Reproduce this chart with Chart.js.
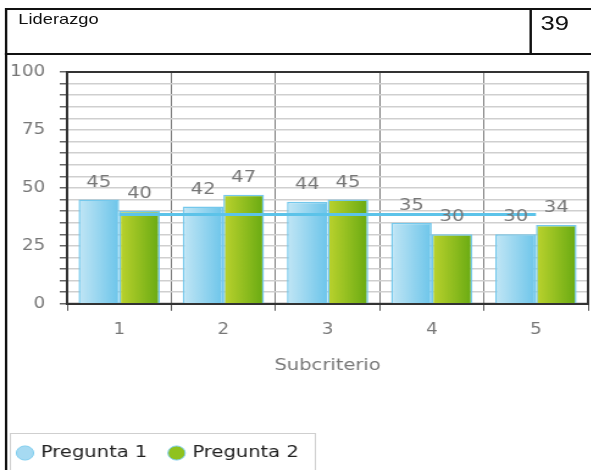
<!DOCTYPE html>
<html>
<head>
<meta charset="utf-8">
<script src="https://cdn.jsdelivr.net/npm/chart.js@4.4.0/dist/chart.umd.min.js"></script>
<style>
    html, body { margin: 0; padding: 0; background: #fff; overflow: hidden; width: 591px; height: 470px; }
    /* the reference is stretched sideways, so the whole page is too */
    #page { position: absolute; left: 0; top: 0; width: 500px; height: 470px; transform: scaleX(1.22); transform-origin: 0 0; }
    #header { position: absolute; left: 4px; top: 8px; width: 520px; height: 43px; border: 2px solid #111; font-family: "Liberation Sans", Arial, sans-serif; color: #111; }
    #header .divider { position: absolute; left: 428px; top: 0; width: 2px; height: 43px; background: #111; }
    #header .title { position: absolute; left: 9px; top: 1px; font-size: 15px; line-height: 15px; }
    #header .score { position: absolute; left: 437px; top: 2px; font-size: 21px; line-height: 21px; }
    #frame { position: absolute; left: 4px; top: 53px; width: 0; height: 430px; border-left: 2px solid #111; }
    #chartBox { position: absolute; left: 7px; top: 51px; width: 478px; height: 447px; }
</style>
</head>
<body>
<div id="page">
    <div id="header">
        <div class="title">Liderazgo</div>
        <div class="divider"></div>
        <div class="score">39</div>
    </div>
    <div id="frame"></div>
    <div id="chartBox"><canvas id="subChart" width="478" height="447"></canvas></div>
</div>
<script>
const categories = ['1', '2', '3', '4', '5'];
const pregunta1 = [45, 42, 44, 35, 30];
const pregunta2 = [40, 47, 45, 30, 34];
const promedio = [38.5, 38.5, 38.5, 38.5, 38.5];

const CAT_PCT = 0.78;

Chart.defaults.font.family = '"DejaVu Sans", Verdana, sans-serif';

// horizontal gradient across each bar
function barGradient(light, dark) {
    return function (c) {
        const xs = c.chart.scales.x;
        if (c.type !== 'data' || !xs) return dark;
        const slot = xs.width / categories.length * CAT_PCT / 2;
        const left = xs.getPixelForValue(c.dataIndex) - slot + c.datasetIndex * slot;
        const g = c.chart.ctx.createLinearGradient(left, 0, left + slot, 0);
        g.addColorStop(0, light);
        g.addColorStop(1, dark);
        return g;
    };
}

const valueLabels = {
    id: 'valueLabels',
    afterDatasetsDraw(chart) {
        const ctx = chart.ctx;
        ctx.save();
        ctx.font = '16px "DejaVu Sans"';
        ctx.fillStyle = '#777';
        ctx.textAlign = 'center';
        ctx.textBaseline = 'middle';
        chart.data.datasets.forEach((ds, i) => {
            if (ds.type === 'line') return;
            chart.getDatasetMeta(i).data.forEach((bar, j) => {
                ctx.fillText(ds.data[j], bar.x, bar.y - 17);
            });
        });
        ctx.restore();
    }
};

const plotFrame = {
    id: 'plotFrame',
    afterLayout(chart) {
        // legend items sit closer to the left edge than Chart.js puts them
        chart.legend.left -= 10.5;
    },
    beforeDatasetsDraw(chart) {
        const a = chart.chartArea;
        const ctx = chart.ctx;
        ctx.save();
        ctx.strokeStyle = '#333';
        ctx.lineWidth = 2;
        ctx.strokeRect(a.left, a.top, a.right - a.left, a.bottom - a.top);
        ctx.restore();
    },
    afterDraw(chart) {
        const boxes = chart.legend.legendHitBoxes;
        if (!boxes.length) return;
        const ctx = chart.ctx;
        ctx.save();
        ctx.strokeStyle = '#cfcfcf';
        ctx.lineWidth = 1;
        const top = Math.round(boxes[0].top + boxes[0].height / 2 - 20) + 0.5;
        ctx.strokeRect(1.5, top, 250, 60);
        ctx.restore();
    }
};

new Chart(document.getElementById('subChart'), {
    type: 'bar',
    data: {
        labels: categories,
        datasets: [{
            label: 'Pregunta 1',
            data: pregunta1,
            backgroundColor: barGradient('#c2e6f5', '#6cc5ea'),
            borderColor: '#74c8ec',
            borderWidth: 1.5,
            order: 1
        }, {
            label: 'Pregunta 2',
            data: pregunta2,
            backgroundColor: barGradient('#bcd32e', '#68aa12'),
            borderColor: '#74c8ec',
            borderWidth: 1.5,
            order: 1
        }, {
            type: 'line',
            label: 'Promedio',
            data: promedio,
            borderColor: '#5cc3e9',
            borderWidth: 3,
            pointRadius: 0,
            order: 0
        }]
    },
    options: {
        responsive: false,
        animation: false,
        datasets: {
            bar: { categoryPercentage: CAT_PCT, barPercentage: 1 }
        },
        layout: { padding: { top: 6, right: 3, left: 0, bottom: 27 } },
        scales: {
            x: {
                grid: { offset: true, color: '#777', borderDash: [2, 2], tickLength: 7, tickColor: '#555', tickBorderDash: [] },
                border: { color: '#333', width: 2 },
                ticks: { color: '#777', font: { size: 15 }, padding: 10 },
                title: { display: true, text: 'Subcriterio', color: '#777', font: { size: 16 }, padding: { top: 7, bottom: 51 } }
            },
            y: {
                min: 0,
                max: 100,
                grid: { color: '#cfcfcf', lineWidth: 1.5, tickLength: 6, tickColor: '#666' },
                border: { color: '#333', width: 2 },
                ticks: {
                    stepSize: 5,
                    autoSkip: false,
                    color: '#777',
                    font: { size: 15 },
                    padding: 12,
                    callback: (v) => (v % 25 === 0 ? v : '')
                },
                afterFit: (scale) => { scale.width = 48; }
            }
        },
        plugins: {
            legend: {
                position: 'bottom',
                align: 'start',
                labels: {
                    usePointStyle: true,
                    boxWidth: 10,
                    boxHeight: 10,
                    padding: 19,
                    color: '#222',
                    font: { size: 16 },
                    generateLabels: () => [
                        { text: 'Pregunta 1', fillStyle: '#a6daf2', strokeStyle: '#7fcdee', lineWidth: 1, pointStyle: 'circle', datasetIndex: 0, fontColor: '#222' },
                        { text: 'Pregunta 2', fillStyle: '#8fc21f', strokeStyle: '#7fcdee', lineWidth: 1, pointStyle: 'circle', datasetIndex: 1, fontColor: '#222' }
                    ]
                }
            },
            tooltip: { enabled: false }
        }
    },
    plugins: [valueLabels, plotFrame]
});
</script>
</body>
</html>
